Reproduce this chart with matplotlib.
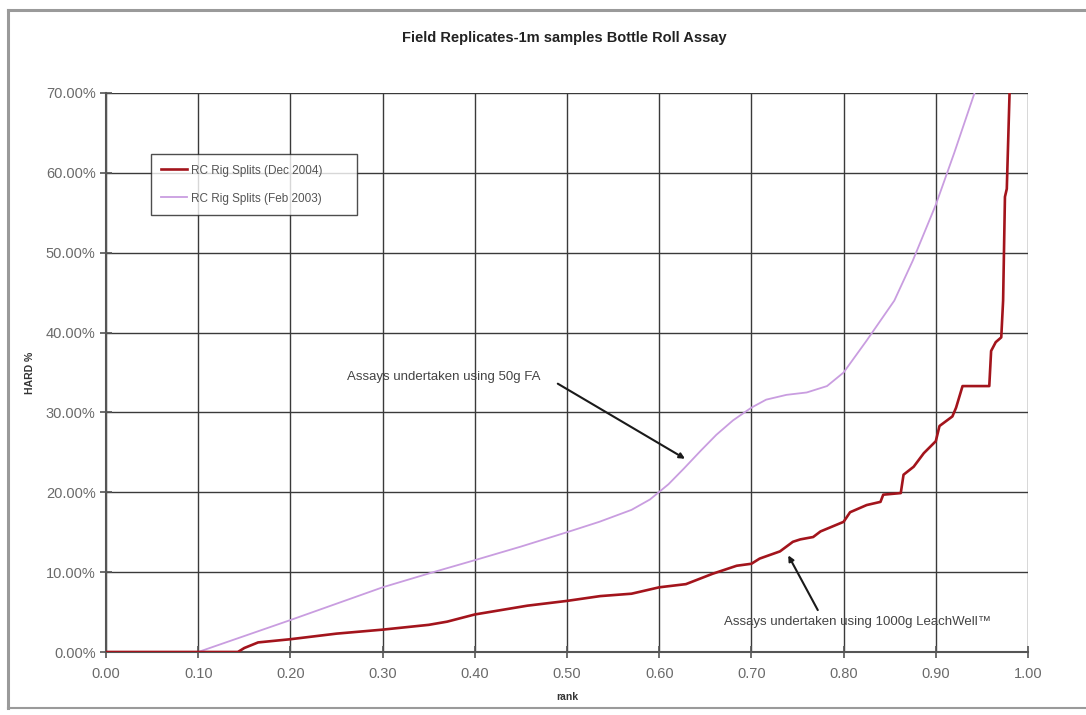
import matplotlib
matplotlib.use("Agg")
import matplotlib.pyplot as plt
from matplotlib.lines import Line2D
from matplotlib.ticker import FuncFormatter

plt.rcParams['font.family'] = ['Liberation Sans', 'DejaVu Sans']

# ---- data (rank vs HARD %) ----
rank_dec = [0.00, 0.143, 0.150, 0.165, 0.20, 0.25, 0.30, 0.35, 0.37, 0.40, 0.457,
            0.50, 0.536, 0.57, 0.60, 0.629, 0.658, 0.684, 0.70, 0.709, 0.731,
            0.745, 0.753, 0.767, 0.775, 0.80, 0.807, 0.825, 0.84, 0.843, 0.862,
            0.865, 0.876, 0.887, 0.90, 0.904, 0.918, 0.922, 0.929, 0.958, 0.96,
            0.965, 0.971, 0.973, 0.975, 0.977, 0.98]
hard_dec = [0.0, 0.0, 0.5, 1.2, 1.6, 2.3, 2.8, 3.4, 3.8, 4.7, 5.8,
            6.4, 7.0, 7.3, 8.1, 8.5, 9.8, 10.8, 11.05, 11.7, 12.6,
            13.8, 14.1, 14.4, 15.1, 16.3, 17.5, 18.4, 18.8, 19.7, 19.9,
            22.2, 23.2, 24.9, 26.4, 28.3, 29.5, 30.6, 33.3, 33.3, 37.7,
            38.8, 39.4, 44.0, 57.0, 58.0, 70.0]

rank_feb = [0.00, 0.10, 0.20, 0.30, 0.355, 0.40, 0.45, 0.50, 0.535, 0.57, 0.59,
            0.61, 0.627, 0.645, 0.662, 0.68, 0.70, 0.716, 0.738, 0.76, 0.782,
            0.80, 0.825, 0.855, 0.875, 0.90, 0.92, 0.942]
hard_feb = [0.0, 0.0, 4.0, 8.1, 10.0, 11.5, 13.2, 15.0, 16.3, 17.8, 19.1,
            21.0, 23.0, 25.2, 27.2, 29.0, 30.6, 31.6, 32.2, 32.5, 33.3,
            35.0, 39.0, 44.0, 49.0, 56.0, 62.5, 70.0]

series_labels = ["RC Rig Splits (Dec 2004)", "RC Rig Splits (Feb 2003)"]
title = "Field Replicates-1m samples Bottle Roll Assay"
note_fa = "Assays undertaken using 50g FA"
note_lw = "Assays undertaken using 1000g LeachWell™"
x_ticks = [0.0, 0.1, 0.2, 0.3, 0.4, 0.5, 0.6, 0.7, 0.8, 0.9, 1.0]
y_ticks = [0, 10, 20, 30, 40, 50, 60, 70]

W, H = 1086, 715
fig = plt.figure(figsize=(W / 100, H / 100), dpi=100)

# outer chart frame
frame_col = '#9a9a9a'
fig.add_artist(Line2D([8 / W, 8 / W], [1 - 10 / H, 1 - 708 / H], color=frame_col, lw=2.2, transform=fig.transFigure))
fig.add_artist(Line2D([8 / W, 1.0], [1 - 10 / H, 1 - 10 / H], color=frame_col, lw=2.2, transform=fig.transFigure))
fig.add_artist(Line2D([8 / W, 1.0], [1 - 708 / H, 1 - 708 / H], color=frame_col, lw=1.5, transform=fig.transFigure))

left, right = 106 / W, 1028 / W
bottom, top = 1 - 652 / H, 1 - 93 / H
ax = fig.add_axes([left, bottom, right - left, top - bottom])

ax.plot(rank_feb, hard_feb, color='#c99de0', lw=1.3, label=series_labels[1], zorder=3)
ax.plot(rank_dec, hard_dec, color='#a3141c', lw=1.9, label=series_labels[0], zorder=4)

ax.set_xlim(0, 1)
ax.set_ylim(0, 70)
ax.set_xticks(x_ticks)
ax.set_yticks(y_ticks)
ax.xaxis.set_major_formatter(FuncFormatter(lambda v, p: f"{v:.2f}"))
ax.yaxis.set_major_formatter(FuncFormatter(lambda v, p: f"{v:.2f}%"))
ax.grid(True, color='#3a3a3a', lw=1.0, zorder=0)
ax.set_axisbelow(True)
for s in ['top', 'right']:
    ax.spines[s].set_visible(False)
for s in ['left', 'bottom']:
    ax.spines[s].set_color('#555555')
    ax.spines[s].set_linewidth(1.5)
ax.tick_params(axis='both', direction='inout', length=9, width=1.2, color='#555555',
               labelcolor='#6a6a6a', labelsize=10.5)
ax.tick_params(axis='x', pad=6)
ax.tick_params(axis='y', pad=3)

ax.set_xlabel("rank", fontsize=7.5, fontweight='bold', color='#333333', labelpad=8)
ax.set_ylabel("HARD %", fontsize=7.5, fontweight='bold', color='#333333', labelpad=8)

fig.text(0.52, 1 - 38 / H, title, ha='center', va='center', fontsize=10.5, fontweight='bold', color='#222222')

leg = ax.legend(handles=[ax.lines[1], ax.lines[0]], loc='upper left',
                bbox_to_anchor=(0.042, 0.7925, 0.237, 0.109), mode='expand',
                fontsize=8.5, frameon=True, fancybox=False, edgecolor='#222222',
                handlelength=2.2, handletextpad=0.3, borderpad=0.9, labelspacing=1.35)
leg.get_frame().set_linewidth(1.0)
for t in leg.get_texts():
    t.set_color('#555555')

arrow_kw = dict(arrowstyle='-|>', color='#1a1a1a', lw=1.5, mutation_scale=8, shrinkA=0, shrinkB=0)
ax.text(0.471, 34.4, note_fa, ha='right', va='center', fontsize=9.5, color='#444444')
ax.annotate("", xy=(0.628, 24.2), xytext=(0.49, 33.6), arrowprops=arrow_kw)
ax.text(0.815, 3.75, note_lw, ha='center', va='center', fontsize=9.5, color='#444444')
ax.annotate("", xy=(0.740, 12.1), xytext=(0.772, 5.25), arrowprops=arrow_kw)

fig.savefig("out.png", dpi=100)
